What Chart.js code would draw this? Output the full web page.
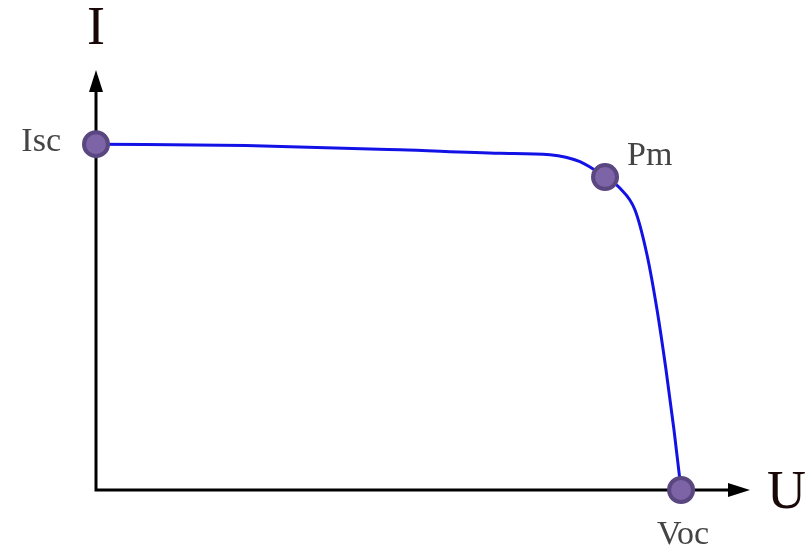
<!DOCTYPE html>
<html>
<head>
<meta charset="utf-8">
<style>
  html, body { margin: 0; padding: 0; background: #fff; }
  #wrap { width: 809px; height: 552px; }
</style>
<script src="https://cdn.jsdelivr.net/npm/chart.js@4/dist/chart.umd.min.js"></script>
</head>
<body>
<div id="wrap"><canvas id="ivChart"></canvas></div>
<script>
// I-U curve of a solar cell (volts / amps)
const curveU = [0, 5.5, 11.16, 14.83, 16.66, 17.76, 18.68, 19.23, 19.78, 20.22, 20.59, 20.92, 21.21, 21.47];
const curveI = [4.94, 4.92, 4.86, 4.81, 4.79, 4.69, 4.47, 4.31, 4.00, 3.36, 2.57, 1.71, 0.86, 0];

// marked points: short circuit, max power, open circuit
const pointNames = ["Isc", "Pm", "Voc"];
const pointU = [0, 18.68, 21.47];
const pointI = [4.94, 4.47, 0];

const axisNames = ["U", "I"];
const uMax = 24;
const iMax = 6;

const curve = curveU.map((u, i) => ({ x: u, y: curveI[i] }));
const marks = pointU.map((u, i) => ({ x: u, y: pointI[i] }));

// draws the arrow axes and the text labels
const axesPlugin = {
    id: "axesPlugin",
    beforeDatasetsDraw(chart) {
        const c = chart.ctx;
        const xs = chart.scales.x, ys = chart.scales.y;
        const x0 = xs.getPixelForValue(0), y0 = ys.getPixelForValue(0);
        const xEnd = xs.getPixelForValue(uMax), yEnd = ys.getPixelForValue(iMax);
        c.save();
        c.strokeStyle = "#000";
        c.fillStyle = "#000";
        c.lineWidth = 3;
        c.beginPath();
        c.moveTo(x0, yEnd + 18);
        c.lineTo(x0, y0);
        c.lineTo(xEnd - 18, y0);
        c.stroke();
        // arrow heads
        c.beginPath();
        c.moveTo(x0, yEnd);
        c.lineTo(x0 - 7, yEnd + 22);
        c.lineTo(x0 + 7, yEnd + 22);
        c.closePath();
        c.fill();
        c.beginPath();
        c.moveTo(xEnd, y0);
        c.lineTo(xEnd - 22, y0 - 7);
        c.lineTo(xEnd - 22, y0 + 7);
        c.closePath();
        c.fill();
        c.restore();
    },
    afterDatasetsDraw(chart) {
        const c = chart.ctx;
        const xs = chart.scales.x, ys = chart.scales.y;
        c.save();
        c.textBaseline = "middle";
        // axis names
        c.font = "54px 'Liberation Serif', 'DejaVu Serif', serif";
        c.fillStyle = "#1a0808";
        c.textAlign = "center";
        c.fillText(axisNames[1], xs.getPixelForValue(0), 30);
        c.textAlign = "left";
        c.fillText(axisNames[0], xs.getPixelForValue(uMax) + 17, ys.getPixelForValue(0) + 4);
        // point names
        c.font = "34px 'Liberation Serif', 'DejaVu Serif', serif";
        c.fillStyle = "#444";
        const px = pointU.map(u => xs.getPixelForValue(u));
        const py = pointI.map(v => ys.getPixelForValue(v));
        c.textAlign = "right";
        c.fillText(pointNames[0], px[0] - 35, py[0] - 2);
        c.textAlign = "left";
        c.fillText(pointNames[1], px[1] + 22, py[1] - 21);
        c.textAlign = "center";
        c.fillText(pointNames[2], px[2] + 2, py[2] + 45);
        c.restore();
    }
};

new Chart(document.getElementById("ivChart"), {
    type: "scatter",
    data: {
        datasets: [{
            label: "marks",
            data: marks,
            showLine: false,
            clip: false,
            pointRadius: 12,
            pointBorderWidth: 4,
            pointBackgroundColor: "#7c64a6",
            pointBorderColor: "#5a4780",
            order: 0
        }, {
            label: "I-U",
            data: curve,
            showLine: true,
            clip: false,
            borderColor: "#1212e6",
            borderWidth: 3,
            cubicInterpolationMode: "monotone",
            pointRadius: 0,
            fill: false,
            order: 1
        }]
    },
    options: {
        responsive: true,
        maintainAspectRatio: false,
        animation: false,
        layout: { padding: { left: 96, right: 59, top: 70, bottom: 62 } },
        plugins: { legend: { display: false }, tooltip: { enabled: false } },
        scales: {
            x: { type: "linear", min: 0, max: uMax, display: false },
            y: { type: "linear", min: 0, max: iMax, display: false }
        }
    },
    plugins: [axesPlugin]
});
</script>
</body>
</html>
